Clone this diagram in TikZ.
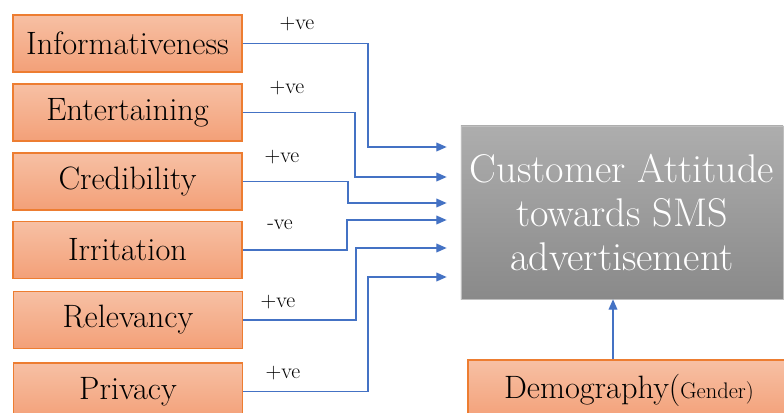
\documentclass[tikz,border=0pt]{standalone}
\usetikzlibrary{arrows.meta}
\definecolor{boxedge}{RGB}{237,125,49}
\definecolor{boxtop}{RGB}{247,192,164}
\definecolor{boxbot}{RGB}{243,160,120}
\definecolor{linkblue}{RGB}{68,114,196}
\begin{document}
\begin{tikzpicture}
[
 x=0.025cm, y=-0.025cm,
 inner sep=0.5mm,
 FACTOR/.style={rectangle, draw=boxedge, thick, top color=boxtop, bottom color=boxbot, minimum width=5.725cm, minimum height=1.425cm, font=\fontsize{23}{26}\selectfont},
 TARGET/.style={rectangle, draw=black!25, thin, top color=black!32, bottom color=black!46, minimum width=8.05cm, minimum height=4.325cm, text=white, align=center, font=\fontsize{28.5}{31.5}\selectfont},
 SIGN/.style={font=\fontsize{15.5}{18}\selectfont},
 LINK/.style={draw=linkblue, line width=0.9pt, -{Triangle[length=2.6mm,width=2.2mm]}},
 ]
%
\useasboundingbox (0,0) rectangle (784,413);
\clip (0,0) rectangle (784,413);
%
\node [FACTOR]  (INFO)   at (127.5, 43.5)  {Informativeness};
\node [FACTOR]  (ENT)    at (127.5,112.5)  {Entertaining};
\node [FACTOR]  (CRED)   at (127.5,181.5)  {Credibility};
\node [FACTOR]  (IRR)    at (127.5,250.0)  {Irritation};
\node [FACTOR]  (REL)    at (128.0,320.0)  {Relevancy};
\node [FACTOR]  (PRIV)   at (128.0,391.5)  {Privacy};
%
\node [TARGET]  (ATT)    at (622,212.5)  {Customer Attitude\\towards SMS\\advertisement};
\node [FACTOR, minimum width=8.05cm, minimum height=1.5cm]  (DEMO)  at (629,390)
      {Demography(\fontsize{16}{18}\selectfont Gender)};
%
\node [SIGN]  (S1)  at (297, 24)  {+ve};
\node [SIGN]  (S2)  at (287, 88)  {+ve};
\node [SIGN]  (S3)  at (282,157)  {+ve};
\node [SIGN]  (S4)  at (280,225)  {-ve};
\node [SIGN]  (S5)  at (278,302)  {+ve};
\node [SIGN]  (S6)  at (283,373)  {+ve};
%
\draw [LINK, shorten >=0.35cm]  (INFO.east)  -| (368,147) -- (ATT.west |- 0,147) ;
\draw [LINK, shorten >=0.35cm]  (ENT.east)   -| (355,177) -- (ATT.west |- 0,177) ;
\draw [LINK, shorten >=0.35cm]  (CRED.east)  -| (348,203) -- (ATT.west |- 0,203) ;
\draw [LINK, shorten >=0.35cm]  (IRR.east)   -| (347,220) -- (ATT.west |- 0,220) ;
\draw [LINK, shorten >=0.35cm]  (REL.east)   -| (356,248) -- (ATT.west |- 0,248) ;
\draw [LINK, shorten >=0.35cm]  (PRIV.east)  -| (368,277) -- (ATT.west |- 0,277) ;
%
\draw [LINK]  (DEMO.north -| 613,0)  -- (ATT.south -| 613,0) ;
%
\end{tikzpicture}
\end{document}
